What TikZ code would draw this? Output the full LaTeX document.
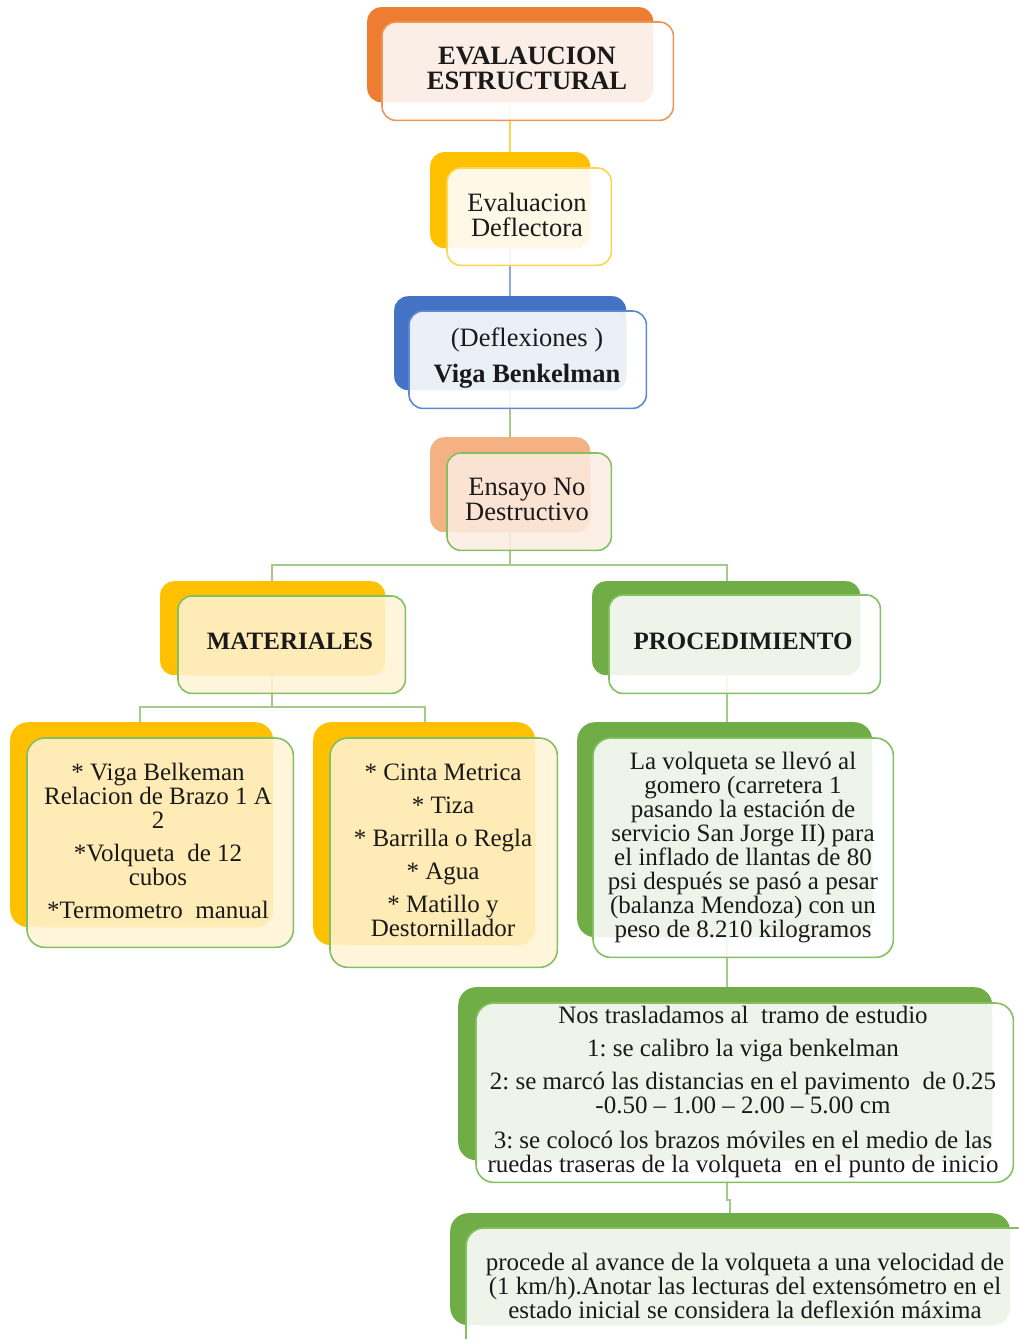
\documentclass[tikz,border=0pt]{standalone}
\usepackage{fontspec}
\setmainfont{Liberation Serif}
\frenchspacing
\usetikzlibrary{calc}
\pgfdeclarelayer{bg}
\pgfsetlayers{bg,main}

\definecolor{cOrange}{HTML}{ED7D31}
\definecolor{cOrangeLine}{HTML}{F0955A}
\definecolor{cOrangeTint}{HTML}{FBEEE6}
\definecolor{cGold}{HTML}{FFC000}
\definecolor{cGoldLine}{HTML}{FFD54F}
\definecolor{cGoldTint}{HTML}{FFF8E6}
\definecolor{cBlue}{HTML}{4472C4}
\definecolor{cBlueLine}{HTML}{5E88D6}
\definecolor{cBlueLink}{HTML}{8FAADC}
\definecolor{cBlueTint}{HTML}{EAEFF8}
\definecolor{cSalmon}{HTML}{F4B183}
\definecolor{cSalmonFill}{HTML}{FCEDE2}
\definecolor{cSalmonTint}{HTML}{FBE3D3}
\definecolor{cGreen}{HTML}{70AD47}
\definecolor{cGreenLine}{HTML}{84BF62}
\definecolor{cGreenLink}{HTML}{A2CC88}
\definecolor{cGreenTint}{HTML}{EEF4EA}
\definecolor{cYellowFill}{HTML}{FFF4D6}
\definecolor{cYellowTint}{HTML}{FFEBB5}
\definecolor{cInk}{HTML}{1A1A1A}

\tikzset{
  backbox/.style={rectangle, rounded corners=14pt, inner sep=0pt, anchor=north west},
  frontbox/.style={rectangle, rounded corners=14pt, inner sep=0pt, anchor=north west, fill opacity=0.88},
  frontline/.style={line width=1.6pt, rounded corners=14pt},
  tintbox/.style={rounded corners=14pt},
  txtU/.style={font=\fontsize{26.5}{25}\selectfont, align=center, text=cInk, inner sep=0pt},
  txtL/.style={font=\fontsize{25}{24}\selectfont, align=center, text=cInk, inner sep=0pt},
  link/.style={line width=1.8pt, cGreenLink},
}

\begin{document}
\begin{tikzpicture}[x=1pt,y=-1pt]
\useasboundingbox (0,0) rectangle (1019,1339);
\clip (0,0) rectangle (1019,1339);

% ---------- EVALAUCION ESTRUCTURAL ----------
\node[backbox, fill=cOrange, minimum width=286pt, minimum height=95pt] (titleB) at (367,7) {};
\node[frontbox, fill=white, minimum width=291pt, minimum height=98pt] (titleF) at (382,22) {};
\fill[cOrangeTint, tintbox] (titleF.north west) rectangle (titleB.south east);
\draw[frontline, cOrangeLine] (titleF.north west) rectangle (titleF.south east);
\node[txtU, font=\fontsize{26.5}{25}\selectfont\bfseries] (titleT) at (527,68.5) {EVALAUCION\\ESTRUCTURAL};

% ---------- Evaluacion Deflectora ----------
\node[backbox, fill=cGold, minimum width=160pt, minimum height=96pt] (deflB) at (430,152) {};
\node[frontbox, fill=white, minimum width=164pt, minimum height=97pt] (deflF) at (447,168) {};
\fill[cGoldTint, tintbox] (deflF.north west) rectangle (deflB.south east);
\draw[frontline, cGoldLine] (deflF.north west) rectangle (deflF.south east);
\node[txtU] (deflT) at (527,214.5) {Evaluacion\\Deflectora};

% ---------- Viga Benkelman ----------
\node[backbox, fill=cBlue, minimum width=232pt, minimum height=94pt] (vigaB) at (394,296) {};
\node[frontbox, fill=white, minimum width=237pt, minimum height=97pt] (vigaF) at (409,311) {};
\fill[cBlueTint, tintbox] (vigaF.north west) rectangle (vigaB.south east);
\draw[frontline, cBlueLine] (vigaF.north west) rectangle (vigaF.south east);
\node[txtU] (vigaT) at (527,358) {(Deflexiones )\\[11pt]\textbf{Viga Benkelman}};

% ---------- Ensayo No Destructivo ----------
\node[backbox, fill=cSalmon, minimum width=160pt, minimum height=95pt] (ensB) at (430,437) {};
\node[frontbox, fill=cSalmonFill, minimum width=164pt, minimum height=97pt] (ensF) at (447,453) {};
\fill[cSalmonTint, tintbox] (ensF.north west) rectangle (ensB.south east);
\draw[frontline, cGreenLine] (ensF.north west) rectangle (ensF.south east);
\node[txtU] (ensT) at (527,499.5) {Ensayo No\\Destructivo};

% ---------- MATERIALES ----------
\node[backbox, fill=cGold, minimum width=225pt, minimum height=94pt] (matB) at (160,581) {};
\node[frontbox, fill=cYellowFill, minimum width=227pt, minimum height=97pt] (matF) at (178,596) {};
\fill[cYellowTint, tintbox] (matF.north west) rectangle (matB.south east);
\draw[frontline, cGreenLine] (matF.north west) rectangle (matF.south east);
\node[txtL, font=\fontsize{25}{24}\selectfont\bfseries] (matT) at (290,641) {MATERIALES};

% ---------- PROCEDIMIENTO ----------
\node[backbox, fill=cGreen, minimum width=268pt, minimum height=94pt] (procB) at (592,581) {};
\node[frontbox, fill=white, minimum width=271pt, minimum height=98pt] (procF) at (609,595) {};
\fill[cGreenTint, tintbox] (procF.north west) rectangle (procB.south east);
\draw[frontline, cGreenLine] (procF.north west) rectangle (procF.south east);
\node[txtL, font=\fontsize{25}{24}\selectfont\bfseries] (procT) at (743,641) {PROCEDIMIENTO};

% ---------- material list 1 ----------
\node[backbox, rounded corners=18pt, fill=cGold, minimum width=263pt, minimum height=205pt] (c1B) at (10,722) {};
\node[frontbox, rounded corners=18pt, fill=cYellowFill, minimum width=266pt, minimum height=209pt] (c1F) at (27,738) {};
\fill[cYellowTint, tintbox, rounded corners=18pt] (c1F.north west) rectangle (c1B.south east);
\draw[frontline, rounded corners=18pt, cGreenLine] (c1F.north west) rectangle (c1F.south east);
\node[txtL] (c1T) at (158,841) {* Viga Belkeman\\Relacion de Brazo 1 A\\2\\[9pt]*Volqueta\ \ de 12\\cubos\\[9pt]*Termometro\ \ manual};

% ---------- material list 2 ----------
\node[backbox, rounded corners=18pt, fill=cGold, minimum width=222pt, minimum height=223pt] (c2B) at (313,722) {};
\node[frontbox, rounded corners=18pt, fill=cYellowFill, minimum width=227pt, minimum height=229pt] (c2F) at (330,738) {};
\fill[cYellowTint, tintbox, rounded corners=18pt] (c2F.north west) rectangle (c2B.south east);
\draw[frontline, rounded corners=18pt, cGreenLine] (c2F.north west) rectangle (c2F.south east);
\node[txtL] (c2T) at (443,850) {* Cinta Metrica\\[9pt]* Tiza\\[9pt]* Barrilla o Regla\\[9pt]* Agua\\[9pt]* Matillo y\\Destornillador};

% ---------- procedure step 1 ----------
\node[backbox, rounded corners=18pt, fill=cGreen, minimum width=295pt, minimum height=215pt] (c3B) at (577,722) {};
\node[frontbox, rounded corners=18pt, fill=white, minimum width=300pt, minimum height=219pt] (c3F) at (593,738) {};
\fill[cGreenTint, tintbox, rounded corners=18pt] (c3F.north west) rectangle (c3B.south east);
\draw[frontline, rounded corners=18pt, cGreenLine] (c3F.north west) rectangle (c3F.south east);
\node[txtL] (c3T) at (743,847.5) {La volqueta se llevó al\\gomero (carretera 1\\pasando la estación de\\servicio San Jorge II) para\\el inflado de llantas de 80\\psi después se pasó a pesar\\(balanza Mendoza) con un\\peso de 8.210 kilogramos};

% ---------- procedure step 2 ----------
\node[backbox, rounded corners=18pt, fill=cGreen, minimum width=534pt, minimum height=173pt] (c4B) at (458,987) {};
\node[frontbox, rounded corners=18pt, fill=white, minimum width=537pt, minimum height=179pt] (c4F) at (476,1003) {};
\fill[cGreenTint, tintbox, rounded corners=18pt] (c4F.north west) rectangle (c4B.south east);
\draw[frontline, rounded corners=18pt, cGreenLine] (c4F.north west) rectangle (c4F.south east);
\node[txtL] (c4T) at (743,1091.5) {Nos trasladamos al\ \ tramo de estudio\\[9pt]1: se calibro la viga benkelman\\[9pt]2: se marcó las distancias en el pavimento\ \ de 0.25\\-0.50 -- 1.00 -- 2.00 -- 5.00 cm\\[11pt]3: se colocó los brazos móviles en el medio de las\\ruedas traseras de la volqueta\ \ en el punto de inicio};

% ---------- procedure step 3 ----------
\node[backbox, rounded corners=18pt, fill=cGreen, minimum width=560pt, minimum height=112pt] (c5B) at (450,1213) {};
\node[frontbox, rounded corners=18pt, fill=white, minimum width=569pt, minimum height=132pt] (c5F) at (466,1228) {};
\fill[cGreenTint, tintbox, rounded corners=18pt] (c5F.north west) rectangle (c5B.south east);
\draw[frontline, rounded corners=18pt, cGreenLine] (c5F.north west) rectangle (c5F.south east);
\node[txtL] (c5T) at (745,1285.5) {procede al avance de la volqueta a una velocidad de\\(1 km/h).Anotar las lecturas del extensómetro en el\\estado inicial se considera la deflexión máxima};

% ---------- connectors ----------
\coordinate (spine) at (510,0);
\coordinate (busA) at (0,565);
\coordinate (busB) at (0,707);
\coordinate (matX) at (272,0);
\coordinate (procX) at (727,0);
\coordinate (leftX) at (140,0);
\coordinate (rightX) at (425,0);
\coordinate (jog) at (730,1200);

\begin{pgfonlayer}{bg}
\draw[link, cGoldLine] (titleB.south -| spine) -- (deflB.north -| spine);
\draw[link, cBlueLink] (deflB.south -| spine) -- (vigaB.north -| spine);
\draw[link] (vigaB.south -| spine) -- (ensB.north -| spine);
\draw[link] (ensB.south -| spine) -- (spine |- busA);
\draw[link] (matB.north -| matX) |- (spine |- busA) -| (procB.north -| procX);
\draw[link] (matB.south -| matX) -- (matX |- busB);
\draw[link] (c1B.north -| leftX) |- (matX |- busB) -| (c2B.north -| rightX);
\draw[link] (procB.south -| procX) -- (c3B.north -| procX);
\draw[link] (c3B.south -| procX) -- (c4B.north -| procX);
\draw[link] (c4B.south -| procX) -- (procX |- jog) -- (jog) -- (c5B.north -| jog);
\end{pgfonlayer}
\end{tikzpicture}
\end{document}
